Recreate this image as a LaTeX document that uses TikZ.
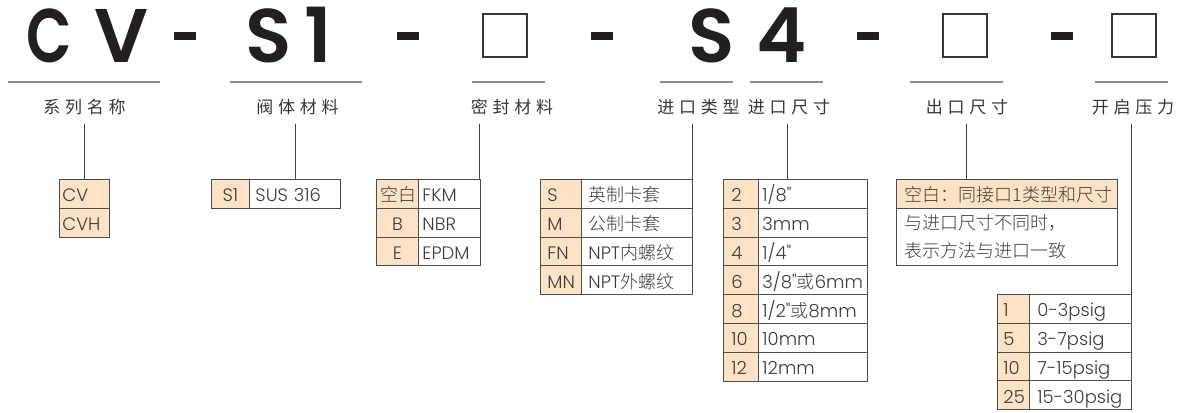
\documentclass[tikz,border=0pt]{standalone}
\usepackage{fontspec}
\setmainfont{Poppins}[UprightFont=* Light, BoldFont=* SemiBold, Ligatures=TeXOff]
\newfontfamily\cjk{Noto Sans CJK SC}[UprightFont=* Light]
\newfontfamily\cjklab{Noto Sans CJK SC}[LetterSpace=28]
\usetikzlibrary{positioning}

\definecolor{keyfill}{HTML}{FDE3C4}
\definecolor{inkdark}{HTML}{231F20}
\definecolor{rulegray}{HTML}{8C8C8C}
\definecolor{gridgray}{HTML}{4D4D4D}
\definecolor{celltext}{HTML}{3C3C3C}

\begin{document}
\begin{tikzpicture}[x=1pt,y=-1pt,
  codechar/.style={anchor=base,inner sep=0pt,text=inkdark,font=\fontsize{76}{76}\selectfont\bfseries},
  codedash/.style={fill=inkdark,minimum width=22pt,minimum height=8pt,inner sep=0pt},
  codebox/.style={draw=inkdark!90,line width=2.2pt,minimum width=44pt,minimum height=43pt,inner sep=0pt},
  underline/.style={draw=rulegray,line width=1.2pt},
  lab/.style={anchor=base,inner sep=0pt,xshift=2.4pt,text=inkdark!90,font=\cjklab\fontsize{17}{17}\selectfont},
  leader/.style={draw=inkdark!85,line width=1pt},
  cellframe/.style={draw=gridgray,line width=0.9pt,anchor=north west,inner ysep=0pt,align=left,text=celltext,font=\fontsize{18}{20}\selectfont},
  cell/.style={cellframe,minimum height=28.8pt,text height=16.5pt,text depth=0.3pt},
  keycell/.style={cell,fill=keyfill}]
\useasboundingbox (0,0) rectangle (1177,412);

% code line
\node[codechar] (cC) at (49,63) {\scalebox{0.78}[1]{C}};
\node[codechar] (cV) at (122,63) {V};
\node[codedash] (d1) at (185,36) {};
\node[codechar] (cS) at (269,63) {S};
\node[codechar] (cOne) at (318,63) {1};
\node[codedash] (d2) at (408,36) {};
\node[codebox] (b1) at (505,35.5) {};
\node[codedash] (d3) at (602,36) {};
\node[codechar] (cS2) at (712,63) {S};
\node[codechar] (cFour) at (782,63) {4};
\node[codedash] (d4) at (868,36) {};
\node[codebox] (b2) at (965,35.5) {};
\node[codedash] (d5) at (1061.5,36) {};
\node[codebox] (b3) at (1134,35.5) {};

% rules and captions
\draw[underline] (8,82) -- (160,82);
\draw[underline] (230,82) -- (362,82);
\draw[underline] (472,82) -- (545,82);
\draw[underline] (660,82) -- (733,82);
\draw[underline] (750,82) -- (823,82);
\draw[underline] (910,82) -- (1003,82);
\draw[underline] (1095,82) -- (1168,82);
\node[lab] (lab1) at (82,113) {系列名称};
\node[lab] (lab2) at (295,113) {阀体材料};
\node[lab] (lab3) at (509.5,113) {密封材料};
\node[lab] (lab4) at (696,113) {进口类型};
\node[lab] (lab5) at (786.5,113) {进口尺寸};
\node[lab] (lab6) at (964.5,113) {出口尺寸};
\node[lab] (lab7) at (1130.5,113) {开启压力};

% series
\foreach \k [count=\i] in {CV,CVH}
  \node[keycell,text width=44pt,inner xsep=3pt] (ck\i) at (59,{179+(\i-1)*28.8}) {\k};

% body material
\node[keycell,align=center,text width=30pt,inner xsep=4pt] (sk1) at (211,179) {S1};
\node[cell,text width=79pt,inner xsep=6pt] (sv1) at (249,179) {SUS 316};

% seal
\foreach \k/\v [count=\i] in {{\cjk 空白}/FKM,B/NBR,E/EPDM} {
  \node[keycell,align=center,text width=34pt,inner xsep=4pt] (ek\i) at (376,{179+(\i-1)*28.8}) {\k};
  \node[cell,text width=54pt,inner xsep=4pt] (ev\i) at (418,{179+(\i-1)*28.8}) {\v};
}

% inlet type
\foreach \k/\v [count=\i] in {S/{\cjk 英制卡套},M/{\cjk 公制卡套},FN/{NPT{\cjk 内螺纹}},MN/{NPT{\cjk 外螺纹}}} {
  \node[keycell,text width=27pt,inner xsep=7pt] (ik\i) at (540,{179+(\i-1)*28.8}) {\k};
  \node[cell,text width=97pt,inner xsep=7pt] (iv\i) at (581,{179+(\i-1)*28.8}) {\v};
}

% inlet size
\foreach \k/\v [count=\i] in {2/{1/8"},3/{3mm},4/{1/4"},6/{3/8"{\cjk 或}6mm},8/{1/2"{\cjk 或}8mm},10/{10mm},12/{12mm}} {
  \node[keycell,text width=19pt,inner xsep=8pt] (zk\i) at (723,{179+(\i-1)*28.8}) {\k};
  \node[cell,text width=101pt,inner xsep=4pt] (zv\i) at (758,{179+(\i-1)*28.8}) {\v};
}

% outlet size
\node[keycell,text width=205pt,inner xsep=8pt,font=\cjk\fontsize{18}{20}\selectfont] (ohead) at (896,179) {空白：同接口1类型和尺寸};
\node[cellframe,text width=205pt,inner xsep=8pt,minimum height=57.6pt,font=\cjk\fontsize{18}{28}\selectfont] (obody) at (896,207.8) {与进口尺寸不同时，\\表示方法与进口一致};

% cracking pressure
\foreach \k/\v [count=\i] in {1/0-3psig,5/3-7psig,10/7-15psig,25/15-30psig} {
  \node[keycell,text width=20pt,inner xsep=6pt] (pk\i) at (997,{294+(\i-1)*28.8}) {\k};
  \node[cell,text width=86pt,inner xsep=8pt] (pv\i) at (1029,{294+(\i-1)*28.8}) {\v};
}

% drop lines
\coordinate (drop1) at (84,124);
\coordinate (drop2) at (295,124);
\coordinate (drop3) at (479,124);
\coordinate (drop4) at (692,124);
\coordinate (drop5) at (787,124);
\coordinate (drop6) at (966,124);
\coordinate (drop7) at (1131,124);
\foreach \d/\t in {1/ck1,2/sv1,3/ev1,4/iv1,5/zv1,6/ohead,7/pv1}
  \draw[leader] (drop\d) -- (drop\d |- \t.north);
\end{tikzpicture}
\end{document}
